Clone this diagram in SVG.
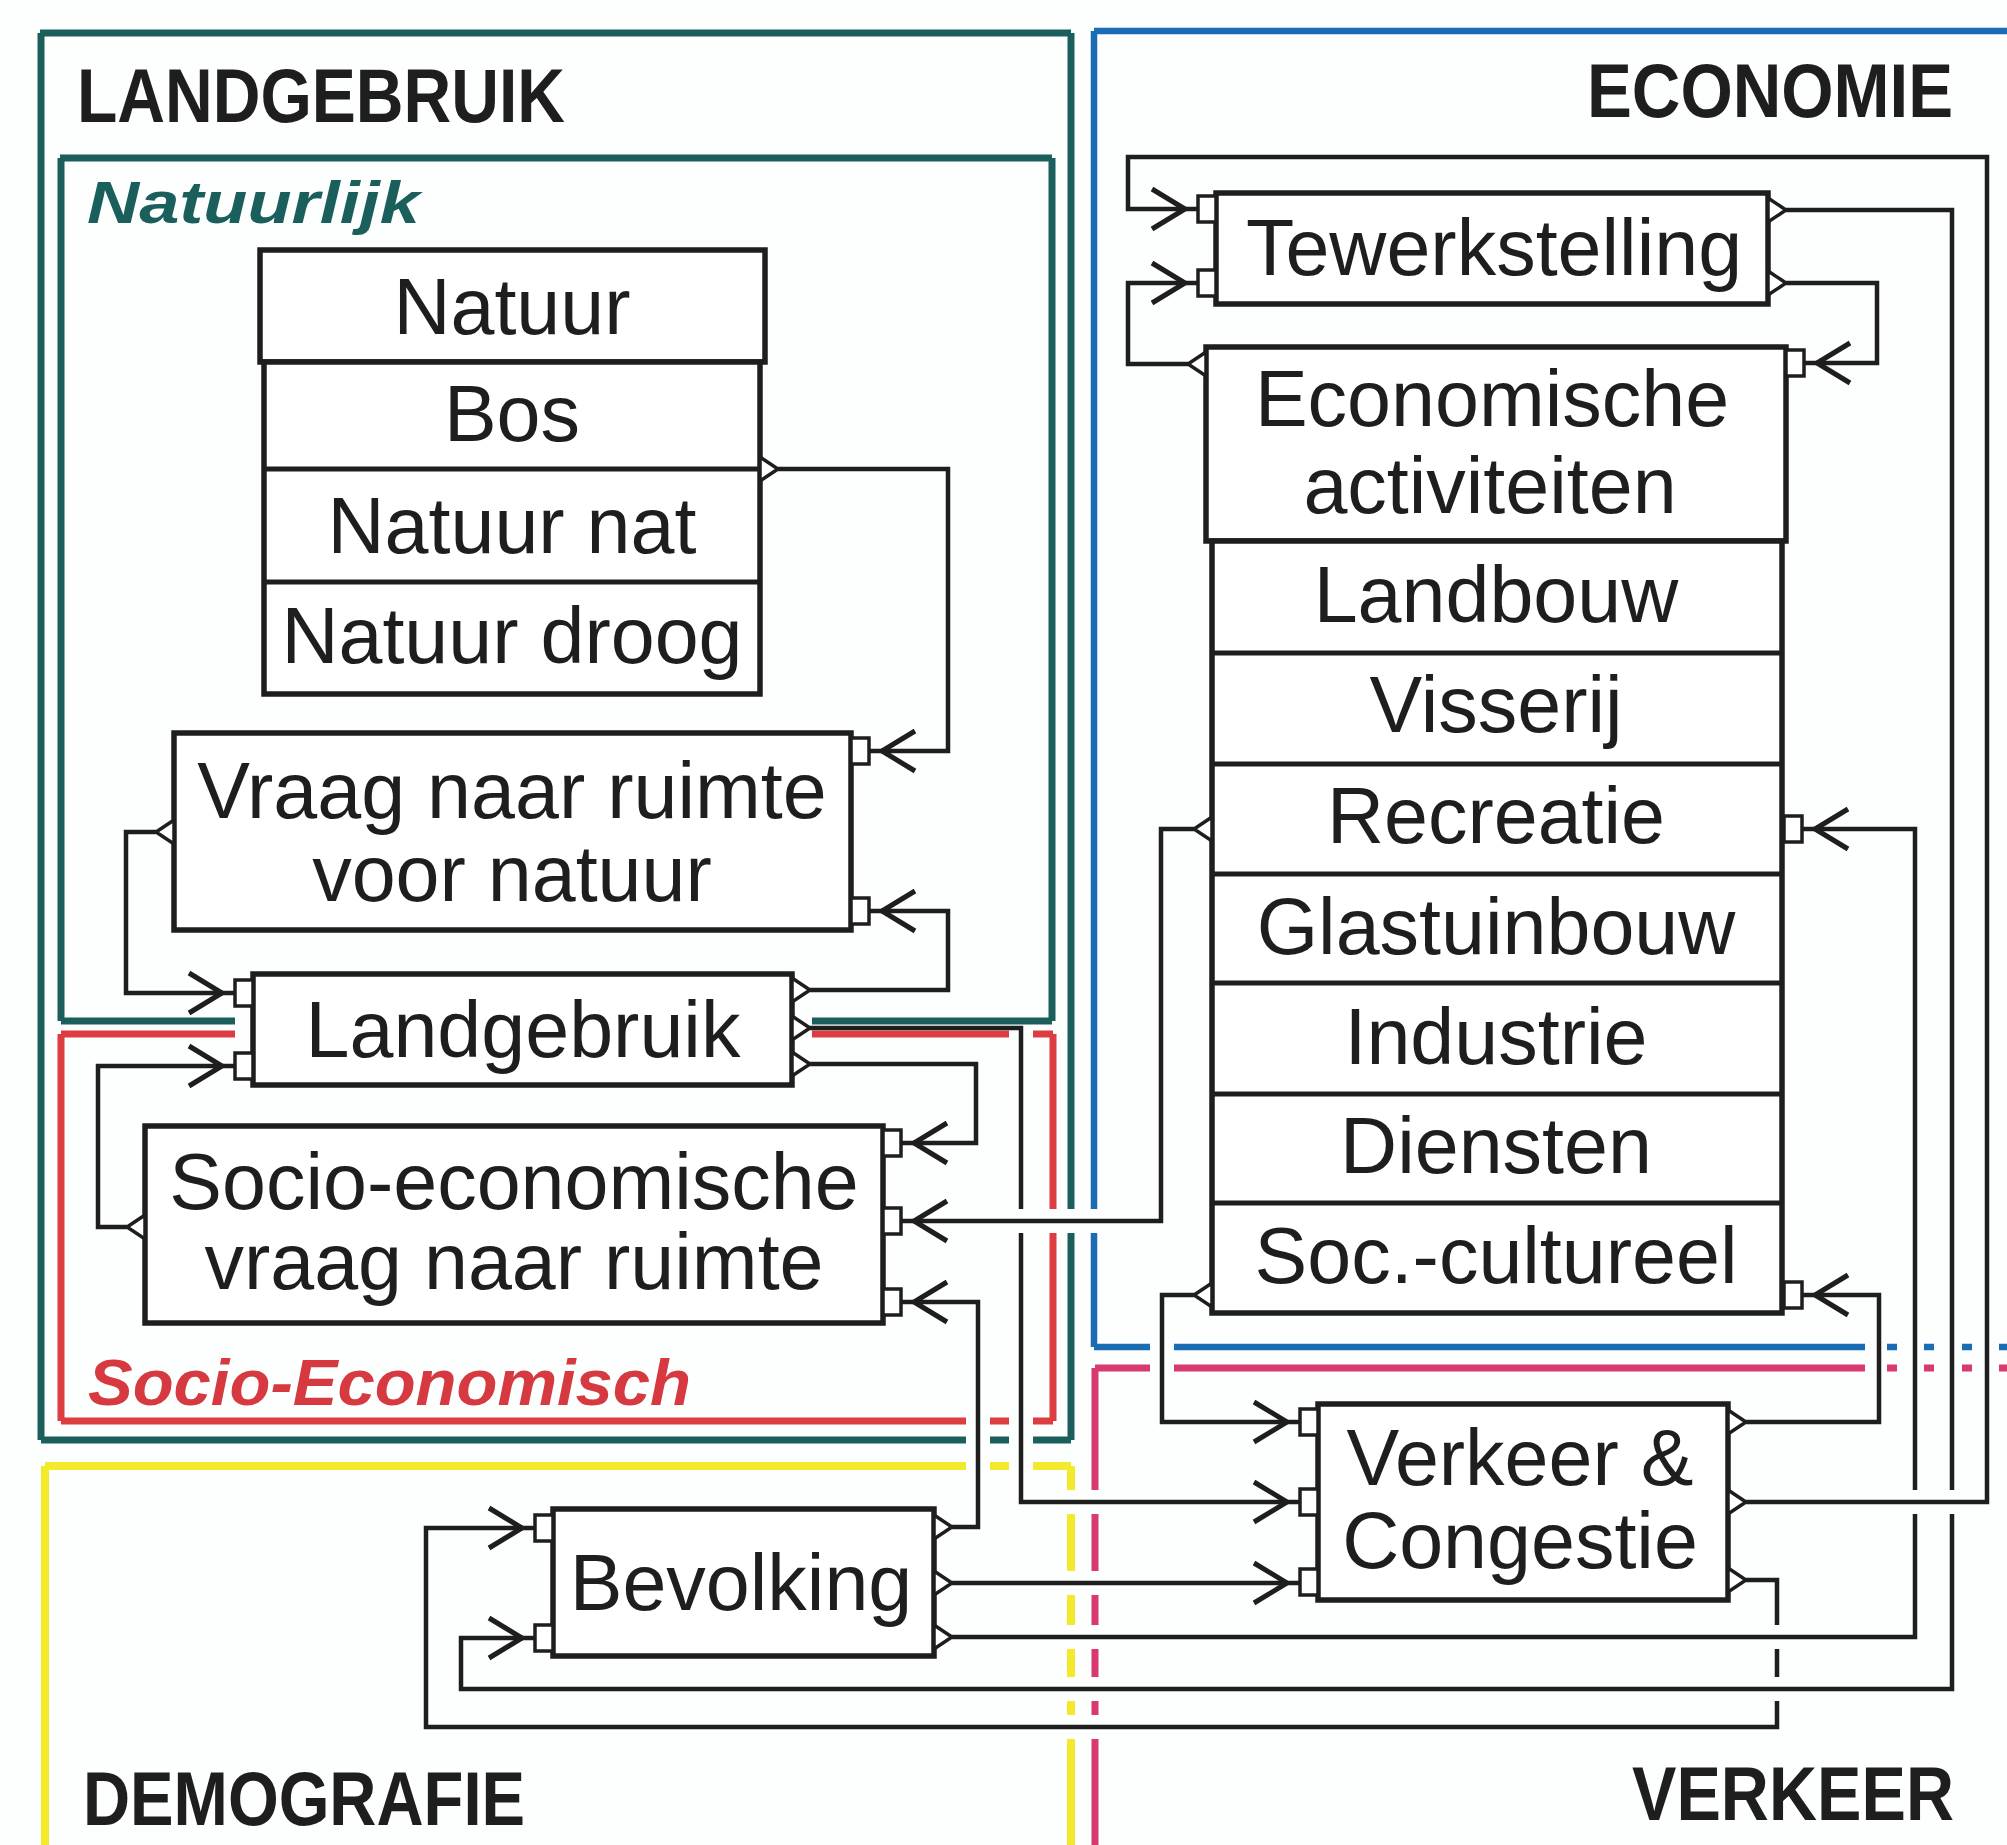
<svg xmlns="http://www.w3.org/2000/svg" width="2007" height="1845" viewBox="0 0 2007 1845">
<defs>
<style>
.box{fill:#fff;stroke:#1e1e1e;stroke-width:5.5}
.row{fill:none;stroke:#1e1e1e;stroke-width:5}
.port{fill:#fff;stroke:#1e1e1e;stroke-width:3.5}
.lbl{font-family:"Liberation Sans",Arial,sans-serif;font-size:79px;fill:#1e1e1e;text-anchor:middle}
.title{font-family:"Liberation Sans",Arial,sans-serif;font-weight:bold;font-size:76px;fill:#1e1e1e}
.sub{font-family:"Liberation Sans",Arial,sans-serif;font-weight:bold;font-style:italic}
.conn{fill:none;stroke:#1e1e1e;stroke-width:4.5;stroke-linejoin:miter}
.teal{fill:none;stroke:#1b5f5d;stroke-width:7}
.red{fill:none;stroke:#dd3d40;stroke-width:7}
.blue{fill:none;stroke:#1a6db5;stroke-width:6.5}
.pink{fill:none;stroke:#d83a6e;stroke-width:7}
.yellow{fill:none;stroke:#f2ea2a;stroke-width:8}
</style>
<marker id="arr" markerUnits="userSpaceOnUse" viewBox="-52 -24 56 48" refX="0" refY="0" markerWidth="56" markerHeight="48" orient="auto">
<path d="M-46,-20 L-13,0 L-46,20" fill="none" stroke="#1e1e1e" stroke-width="5"/>
</marker>
</defs>
<rect x="0" y="0" width="2007" height="1845" fill="#fdfefe"/>

<g id="frames">
<path class="teal" d="M40,33 H1071 M41,33 V1440 M41,1440 H966 M990,1440 H1009 M1033,1440 H1071 M1071,33 V1209 M1071,1233 V1440"/>
<path class="teal" d="M60,158 H1052 M61,158 V1021 M1052,158 V1021 M61,1021 H235 M812,1021 H1052"/>
<path class="red" d="M61,1034 H235 M812,1034 H1009 M1033,1034 H1053 M61,1034 V1421 M1053,1034 V1209 M1053,1233 V1421 M61,1421 H966 M990,1421 H1009 M1033,1421 H1053"/>
<path class="blue" d="M1094,31 H2010 M1094,31 V1209 M1094,1233 V1347 M1094,1347 H1150 M1174,1347 H1865 M1887,1347 H1897 M1924,1347 H1934 M1962,1347 H1972 M1999,1347 H2009"/>
<path class="pink" d="M1095,1368 H1150 M1174,1368 H1865 M1887,1368 H1897 M1924,1368 H1934 M1962,1368 H1972 M1999,1368 H2009 M1095,1368 V1490 M1095,1514 V1571 M1095,1595 V1625 M1095,1649 V1677 M1095,1701 V1715 M1095,1739 V1850"/>
<path class="yellow" d="M45,1466 H966 M990,1466 H1009 M1033,1466 H1071 M45,1466 V1850 M1071,1466 V1490 M1071,1514 V1571 M1071,1595 V1625 M1071,1649 V1677 M1071,1701 V1715 M1071,1739 V1850"/>
</g>

<g id="labels">
<text class="title" x="77" y="122" textLength="488" lengthAdjust="spacingAndGlyphs">LANDGEBRUIK</text>
<text class="title" x="1587" y="117" textLength="366" lengthAdjust="spacingAndGlyphs">ECONOMIE</text>
<text class="title" x="83" y="1825" textLength="442" lengthAdjust="spacingAndGlyphs">DEMOGRAFIE</text>
<text class="title" x="1632" y="1820" textLength="322" lengthAdjust="spacingAndGlyphs">VERKEER</text>
<text class="sub" x="87" y="223" font-size="60" fill="#1b5f5d" textLength="333" lengthAdjust="spacingAndGlyphs">Natuurlijk</text>
<text class="sub" x="88" y="1405" font-size="64" fill="#d63a40" textLength="603" lengthAdjust="spacingAndGlyphs">Socio-Economisch</text>
</g>

<g id="connectors">
<path class="conn" marker-end="url(#arr)" d="M778,469 H948 V751 H869"/>
<path class="conn" marker-end="url(#arr)" d="M810,990 H948 V911 H869"/>
<path class="conn" marker-end="url(#arr)" d="M156,832 H126 V993 H235"/>
<path class="conn" marker-end="url(#arr)" d="M127,1227 H98 V1066 H235"/>
<path class="conn" marker-end="url(#arr)" d="M810,1028 H1021 V1209 M1021,1233 V1502 H1300"/>
<path class="conn" marker-end="url(#arr)" d="M810,1064 H976 V1143 H901"/>
<path class="conn" marker-end="url(#arr)" d="M1194,829 H1161 V1221 H901"/>
<path class="conn" marker-end="url(#arr)" d="M952,1527 H978 V1302 H901"/>
<path class="conn" marker-end="url(#arr)" d="M1188,364 H1128 V283 H1198"/>
<path class="conn" marker-end="url(#arr)" d="M1786,283 H1877 V363 H1804"/>
<path class="conn" marker-end="url(#arr)" d="M1746,1502 H1987 V157 H1128 V209 H1198"/>
<path class="conn" marker-end="url(#arr)" d="M1786,210 H1952 V1490 M1952,1514 V1689 H461 V1638 H535"/>
<path class="conn" marker-end="url(#arr)" d="M952,1637 H1915 V1514 M1915,1490 V829 H1802"/>
<path class="conn" marker-end="url(#arr)" d="M1194,1295 H1162 V1422 H1300"/>
<path class="conn" marker-end="url(#arr)" d="M1746,1422 H1879 V1295 H1802"/>
<path class="conn" marker-end="url(#arr)" d="M952,1583 H1300"/>
<path class="conn" marker-end="url(#arr)" d="M1746,1580 H1777 V1625 M1777,1649 V1677 M1777,1701 V1727 H426 V1528 H535"/>
</g>

<g id="natuur">
<rect class="box" x="260" y="250" width="505" height="112"/>
<rect class="box" x="264" y="362" width="496" height="332"/>
<path class="row" d="M264,469 H760 M264,582 H760"/>
<polygon class="port" points="760,457 778,469 760,481"/>
<text class="lbl" x="512" y="334">Natuur</text>
<text class="lbl" x="512" y="441">Bos</text>
<text class="lbl" x="512" y="553">Natuur nat</text>
<text class="lbl" x="512" y="663">Natuur droog</text>
</g>

<g id="vraag">
<rect class="box" x="174" y="733" width="677" height="197"/>
<rect class="port" x="851" y="738" width="18" height="26"/>
<rect class="port" x="851" y="898" width="18" height="26"/>
<polygon class="port" points="174,820 156,832 174,844"/>
<text class="lbl" x="512" y="818">Vraag naar ruimte</text>
<text class="lbl" x="512" y="901">voor natuur</text>
</g>

<g id="landgebruik">
<rect class="box" x="253" y="974" width="539" height="111"/>
<rect class="port" x="235" y="980" width="18" height="26"/>
<rect class="port" x="235" y="1053" width="18" height="26"/>
<polygon class="port" points="792,978 810,990 792,1002"/>
<polygon class="port" points="792,1016 810,1028 792,1040"/>
<polygon class="port" points="792,1052 810,1064 792,1076"/>
<text class="lbl" x="523" y="1057">Landgebruik</text>
</g>

<g id="socio">
<rect class="box" x="145" y="1126" width="738" height="197"/>
<rect class="port" x="883" y="1130" width="18" height="26"/>
<rect class="port" x="883" y="1208" width="18" height="26"/>
<rect class="port" x="883" y="1289" width="18" height="26"/>
<polygon class="port" points="145,1215 127,1227 145,1239"/>
<text class="lbl" x="514" y="1209">Socio-economische</text>
<text class="lbl" x="514" y="1289">vraag naar ruimte</text>
</g>

<g id="tewerkstelling">
<rect class="box" x="1216" y="193" width="552" height="111"/>
<rect class="port" x="1198" y="196" width="18" height="26"/>
<rect class="port" x="1198" y="270" width="18" height="26"/>
<polygon class="port" points="1768,198 1786,210 1768,222"/>
<polygon class="port" points="1768,271 1786,283 1768,295"/>
<text class="lbl" x="1494" y="275">Tewerkstelling</text>
</g>

<g id="economische-activiteiten">
<rect class="box" x="1206" y="347" width="580" height="194"/>
<rect class="box" x="1212" y="541" width="570" height="772"/>
<path class="row" d="M1212,653 H1782 M1212,764 H1782 M1212,874 H1782 M1212,983 H1782 M1212,1094 H1782 M1212,1203 H1782"/>
<polygon class="port" points="1206,352 1188,364 1206,376"/>
<rect class="port" x="1786" y="350" width="18" height="26"/>
<polygon class="port" points="1212,817 1194,829 1212,841"/>
<rect class="port" x="1784" y="816" width="18" height="26"/>
<polygon class="port" points="1212,1283 1194,1295 1212,1307"/>
<rect class="port" x="1784" y="1282" width="18" height="26"/>
<text class="lbl" x="1492" y="426">Economische</text>
<text class="lbl" x="1490" y="513">activiteiten</text>
<text class="lbl" x="1496" y="622">Landbouw</text>
<text class="lbl" x="1496" y="732">Visserij</text>
<text class="lbl" x="1496" y="843">Recreatie</text>
<text class="lbl" x="1496" y="954">Glastuinbouw</text>
<text class="lbl" x="1496" y="1064">Industrie</text>
<text class="lbl" x="1496" y="1173">Diensten</text>
<text class="lbl" x="1496" y="1283">Soc.-cultureel</text>
</g>

<g id="verkeer">
<rect class="box" x="1318" y="1404" width="410" height="196"/>
<rect class="port" x="1300" y="1409" width="18" height="26"/>
<rect class="port" x="1300" y="1489" width="18" height="26"/>
<rect class="port" x="1300" y="1569" width="18" height="26"/>
<polygon class="port" points="1728,1410 1746,1422 1728,1434"/>
<polygon class="port" points="1728,1490 1746,1502 1728,1514"/>
<polygon class="port" points="1728,1568 1746,1580 1728,1592"/>
<text class="lbl" x="1520" y="1485">Verkeer &amp;</text>
<text class="lbl" x="1520" y="1568">Congestie</text>
</g>

<g id="bevolking">
<rect class="box" x="553" y="1509" width="381" height="147"/>
<rect class="port" x="535" y="1515" width="18" height="26"/>
<rect class="port" x="535" y="1625" width="18" height="26"/>
<polygon class="port" points="934,1515 952,1527 934,1539"/>
<polygon class="port" points="934,1571 952,1583 934,1595"/>
<polygon class="port" points="934,1625 952,1637 934,1649"/>
<text class="lbl" x="741" y="1610">Bevolking</text>
</g>
</svg>
